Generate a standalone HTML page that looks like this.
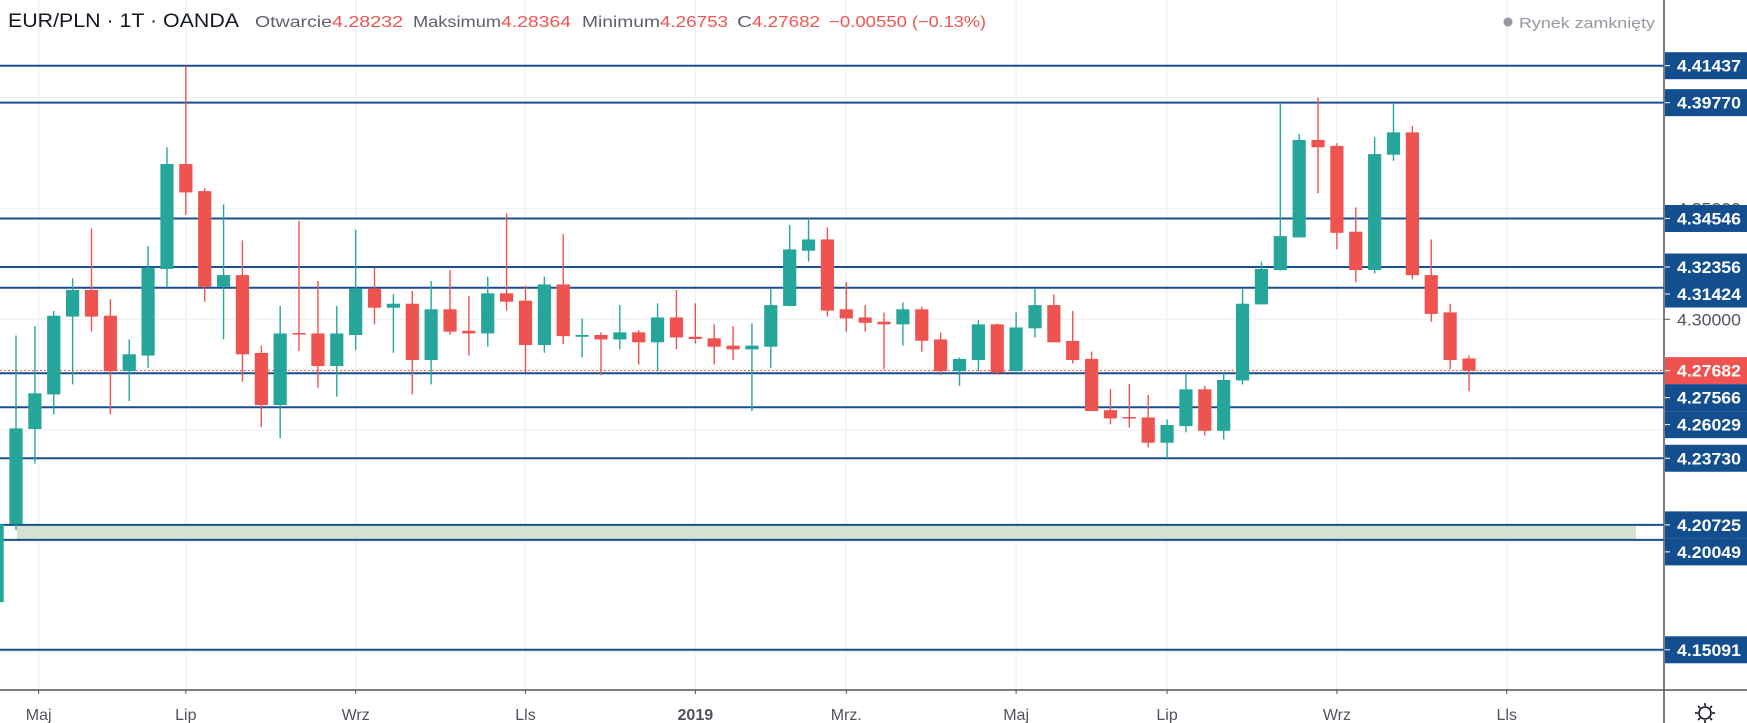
<!DOCTYPE html>
<html><head><meta charset="utf-8"><style>
html,body{margin:0;padding:0;background:#fff;width:1747px;height:723px;overflow:hidden}
svg{display:block;font-family:"Liberation Sans",sans-serif}
</style></head><body>
<svg id="chart" xmlns="http://www.w3.org/2000/svg" width="1747" height="723" viewBox="0 0 1747 723">
<g id="grid"></g>
<g id="zone"></g>
<g id="levels"></g>
<g id="candles"></g>
<g id="axis"></g>
<g id="timeaxis"></g>
<g font-size="16">
<text x="8" y="27" font-size="19" fill="#131722" textLength="231" lengthAdjust="spacingAndGlyphs">EUR/PLN · 1T · OANDA</text>
<text x="255" y="27" fill="#5d606b" textLength="77" lengthAdjust="spacingAndGlyphs">Otwarcie</text>
<text x="332" y="27" fill="#ef5350" textLength="71" lengthAdjust="spacingAndGlyphs">4.28232</text>
<text x="413" y="27" fill="#5d606b" textLength="88" lengthAdjust="spacingAndGlyphs">Maksimum</text>
<text x="501" y="27" fill="#ef5350" textLength="70" lengthAdjust="spacingAndGlyphs">4.28364</text>
<text x="582" y="27" fill="#5d606b" textLength="78" lengthAdjust="spacingAndGlyphs">Minimum</text>
<text x="660" y="27" fill="#ef5350" textLength="68" lengthAdjust="spacingAndGlyphs">4.26753</text>
<text x="737" y="27" fill="#5d606b" textLength="15" lengthAdjust="spacingAndGlyphs">C</text>
<text x="752" y="27" fill="#ef5350" textLength="68" lengthAdjust="spacingAndGlyphs">4.27682</text>
<text x="829" y="27" fill="#ef5350" textLength="78" lengthAdjust="spacingAndGlyphs">−0.00550</text>
<text x="912" y="27" fill="#ef5350" textLength="74" lengthAdjust="spacingAndGlyphs">(−0.13%)</text>
<circle cx="1508" cy="22" r="4.5" fill="#9598a1"/>
<text x="1519" y="28" font-size="15" fill="#9598a1" textLength="136" lengthAdjust="spacingAndGlyphs">Rynek zamknięty</text>
</g>
<g transform="translate(1705,713)" stroke="#131722" stroke-width="1.6" fill="none">
<circle r="6"/><line x1="-10" y1="0" x2="-7" y2="0"/><line x1="7" y1="0" x2="10" y2="0"/><line x1="0" y1="-10" x2="0" y2="-7"/><line x1="0" y1="7" x2="0" y2="10"/><line x1="-7" y1="-7" x2="-5" y2="-5"/><line x1="5" y1="5" x2="7" y2="7"/><line x1="7" y1="-7" x2="5" y2="-5"/><line x1="-5" y1="5" x2="-7" y2="7"/>
</g>
</svg>
<script>
const opens=[4.1724,4.2076,4.2505,4.2661,4.3012,4.3132,4.3016,4.2766,4.2836,4.3227,4.3700,4.3578,4.3147,4.3199,4.2848,4.2613,4.2938,4.2936,4.2789,4.2929,4.3139,4.3052,4.3070,4.2816,4.3045,4.2948,4.2936,4.3117,4.3084,4.2884,4.3157,4.2921,4.2929,4.2909,4.2941,4.2896,4.3008,4.2921,4.2914,4.2881,4.2864,4.2876,4.3060,4.3309,4.3360,4.3045,4.3008,4.2989,4.2977,4.3045,4.2909,4.2766,4.2816,4.2977,4.2766,4.2959,4.3064,4.2902,4.2821,4.2590,4.2559,4.2557,4.2443,4.2518,4.2684,4.2497,4.2724,4.3067,4.3222,4.3369,4.3809,4.3782,4.3395,4.3222,4.3742,4.3843,4.3199,4.3031,4.28232];
const highs=[4.2100,4.2927,4.2969,4.3037,4.3184,4.3410,4.3091,4.2909,4.3330,4.3776,4.4144,4.3591,4.3518,4.3356,4.2881,4.3060,4.3443,4.3172,4.3060,4.3403,4.3233,4.3112,4.3127,4.3172,4.3222,4.3105,4.3192,4.3478,4.3151,4.3192,4.3384,4.3004,4.2941,4.3064,4.2951,4.3072,4.3132,4.3072,4.2977,4.2969,4.2981,4.3142,4.3425,4.3455,4.3415,4.3166,4.3064,4.3030,4.3076,4.3057,4.2941,4.2828,4.2996,4.2981,4.3031,4.3142,4.3112,4.3037,4.2854,4.2685,4.2708,4.2658,4.2548,4.2753,4.2699,4.2763,4.3136,4.3260,4.3976,4.3836,4.4000,4.3794,4.3505,4.3821,4.3976,4.3872,4.3360,4.3070,4.28364];
const lows=[4.1720,4.2049,4.2350,4.2571,4.2706,4.2944,4.2571,4.2631,4.2781,4.3147,4.3470,4.3079,4.2909,4.2718,4.2515,4.2463,4.2857,4.2691,4.2651,4.2861,4.2977,4.2849,4.2661,4.2706,4.2929,4.2836,4.2876,4.3039,4.2759,4.2849,4.2888,4.2828,4.2748,4.2864,4.2796,4.2766,4.2864,4.2891,4.2796,4.2816,4.2586,4.2781,4.3058,4.3260,4.3012,4.2944,4.2944,4.2774,4.2881,4.2854,4.2748,4.2700,4.2766,4.2751,4.2766,4.2918,4.2896,4.2801,4.2586,4.2526,4.2511,4.2422,4.2372,4.2490,4.2475,4.2458,4.2706,4.3067,4.3220,4.3369,4.3568,4.3315,4.3166,4.3207,4.3715,4.3180,4.2989,4.2774,4.26753];
const closes=[4.2076,4.2508,4.2666,4.3016,4.3132,4.3012,4.2766,4.2842,4.3233,4.3700,4.3572,4.3147,4.3199,4.2842,4.2613,4.2936,4.2934,4.2789,4.2936,4.3139,4.3052,4.3070,4.2816,4.3045,4.2944,4.2936,4.3117,4.3079,4.2884,4.3157,4.2924,4.2929,4.2909,4.2941,4.2896,4.3008,4.2918,4.2911,4.2876,4.2864,4.2881,4.3064,4.3315,4.3360,4.3039,4.3004,4.2984,4.2977,4.3045,4.2903,4.2766,4.2821,4.2977,4.2759,4.2963,4.3064,4.2896,4.2816,4.2586,4.2553,4.2553,4.2443,4.2523,4.2684,4.2497,4.2726,4.3070,4.3227,4.3375,4.3809,4.3776,4.3390,4.3222,4.3745,4.3843,4.3199,4.3024,4.2816,4.27682];
const levelPrices=[4.41437,4.39770,4.34546,4.32356,4.31424,4.27566,4.26029,4.23730,4.20725,4.20049,4.15091];
const lastPrice=4.27682;
const gridPrices=[4.40,4.35,4.30,4.25,4.20,4.15];
const zoneTop=4.20725, zoneBottom=4.20049;
const timeLabels=["Maj","Lip","Wrz","Lls","2019","Mrz.","Maj","Lip","Wrz","Lls"];
const timeBars=[1.2,9,18,27,36,44,53,61,70,79];

const NS="http://www.w3.org/2000/svg";
const AXIS_X=1664, BOTTOM=690, W=1747;
function py(p){return 65.7+(4.41437-p)*2217;}
function bx(i){return 16+18.87*(i-1);} // index 0 is the partial bar at -1
function tx(b){return 16+18.87*b;}
function mk(tag,attrs,parent){const e=document.createElementNS(NS,tag);for(const k in attrs)e.setAttribute(k,attrs[k]);parent.appendChild(e);return e;}

// grid
const grid=document.getElementById('grid');
gridPrices.forEach(p=>{
  const l=mk('line',{x1:0,x2:AXIS_X,y1:py(p),y2:py(p),stroke:'#eef1f6','stroke-width':1.3},grid);
  
  
});
timeBars.forEach(b=>{
  const l=mk('line',{x1:tx(b),x2:tx(b),y1:0,y2:BOTTOM,stroke:'#eef1f6','stroke-width':1.3},grid);
  
  
});

// zone
const zone=document.getElementById('zone');
const zr=mk('rect',{x:17,y:py(zoneTop),width:1636-17,height:py(zoneBottom)-py(zoneTop),fill:'#d5e1d1'},zone);



// levels
const levels=document.getElementById('levels');
levelPrices.forEach(p=>{
  const l=mk('line',{x1:0,x2:AXIS_X,y1:py(p),y2:py(p),stroke:'#1a4f8d','stroke-width':2},levels);
  
  
});
const cur=mk('line',{x1:0,x2:AXIS_X,y1:py(lastPrice),y2:py(lastPrice),stroke:'#ef5350','stroke-width':1,'stroke-dasharray':'2,2'},levels);



// candles
const cg=document.getElementById('candles');
for(let i=0;i<opens.length;i++){
  const o=opens[i],h=highs[i],l=lows[i],c=closes[i];
  const col=c>=o?'#26a69a':'#ef5350';
  const x=bx(i);
  const g=mk('g',{},cg);
  
  
  mk('line',{x1:x,x2:x,y1:py(h),y2:py(l),stroke:col,'stroke-width':1.4},g);
  const top=py(Math.max(o,c)),bot=py(Math.min(o,c));
  mk('rect',{x:x-6.6,y:top,width:13.2,height:Math.max(1.5,bot-top),fill:col},g);
}

// price axis
const ax=document.getElementById('axis');
mk('rect',{x:AXIS_X,y:0,width:W-AXIS_X,height:723,fill:'#fff'},ax);
mk('line',{x1:AXIS_X,x2:AXIS_X,y1:0,y2:723,stroke:'#50535e','stroke-width':1.5},ax);
gridPrices.forEach(p=>{
  const t=mk('text',{x:1677,y:py(p)+6,'font-size':17,fill:'#50535e',textLength:64,lengthAdjust:'spacingAndGlyphs'},ax);
  t.textContent=p.toFixed(5);
  
  
  mk('line',{x1:AXIS_X,x2:AXIS_X+6,y1:py(p),y2:py(p),stroke:'#50535e','stroke-width':1},ax);
});
const labs=levelPrices.map(p=>({p:p,red:false})).concat([{p:lastPrice,red:true}]).sort((a,b)=>b.p-a.p);
let prev=-1e9;
labs.forEach(o=>{
  let y=py(o.p);
  if(y<prev+27)y=prev+27;
  prev=y;
  const g=mk('g',{},ax);
  
  
  mk('rect',{x:AXIS_X+1,y:y-13.5,width:W-AXIS_X-1,height:27,fill:o.red?'#ef5350':'#134f8f'},g);
  mk('line',{x1:AXIS_X+1,x2:AXIS_X+6,y1:y,y2:y,stroke:'#fff','stroke-width':1},g);
  const t=mk('text',{x:1677,y:y+6,'font-size':17,fill:'#fff','font-weight':'bold',textLength:64,lengthAdjust:'spacingAndGlyphs'},g);
  t.textContent=o.p.toFixed(5);
});

// time axis
const ta=document.getElementById('timeaxis');
mk('rect',{x:0,y:BOTTOM,width:W,height:723-BOTTOM,fill:'#fff'},ta);
mk('line',{x1:0,x2:W,y1:BOTTOM,y2:BOTTOM,stroke:'#50535e','stroke-width':1.5},ta);
mk('line',{x1:AXIS_X,x2:AXIS_X,y1:BOTTOM,y2:723,stroke:'#50535e','stroke-width':1.5},ta);
timeLabels.forEach((s,k)=>{
  const x=tx(timeBars[k]);
  mk('line',{x1:x,x2:x,y1:BOTTOM,y2:BOTTOM+4,stroke:'#50535e','stroke-width':1},ta);
  const t=mk('text',{x:x,y:720,'font-size':16,fill:'#50535e','text-anchor':'middle','font-weight':s==='2019'?'bold':'normal'},ta);
  t.textContent=s;
  
  
});
</script>
</body></html>
